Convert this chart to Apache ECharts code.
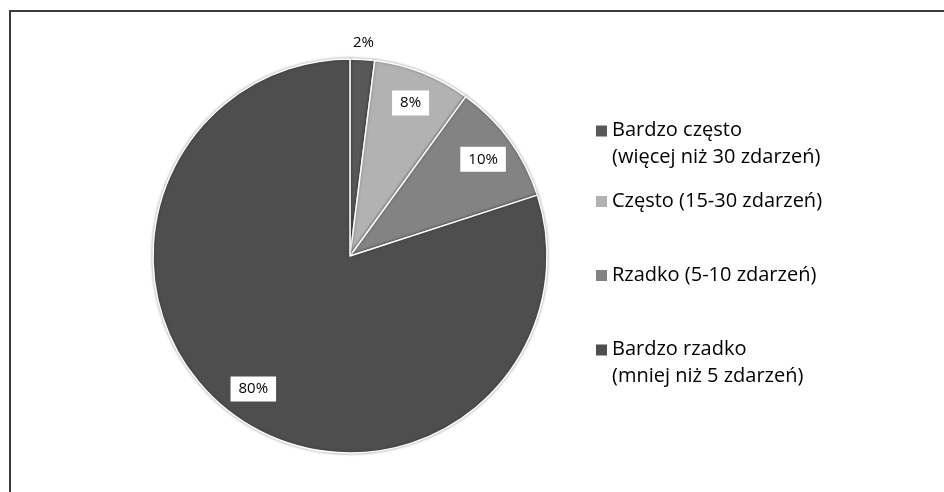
<!DOCTYPE html>
<html>
<head>
<meta charset="utf-8">
<script src="https://cdn.jsdelivr.net/npm/echarts@6/dist/echarts.min.js"></script>
<style>
  html, body { margin: 0; padding: 0; background: #fff; }
  #chart { width: 944px; height: 492px; }
</style>
</head>
<body>
<div id="chart"></div>
<script>
const categories = [
  'Bardzo często\n(więcej niż 30 zdarzeń)',
  'Często (15-30 zdarzeń)',
  'Rzadko (5-10 zdarzeń)',
  'Bardzo rzadko\n(mniej niż 5 zdarzeń)'
]
const shares = [2, 8, 10, 80]
const sliceColors = ['#585858', '#b2b2b2', '#838383', '#4e4e4e']

const chart = echarts.init(document.getElementById('chart'))

const center = [350, 256]
const legendTops = [117, 188, 262, 336]
const twoLine = [true, false, false, true]
// square sitting at the top of a taller box, so it lines up with the first text line
const topSquare = 'path://M0,0L11,0L11,11L0,11Z M0,37L0.01,37'

const pieData = categories.map((name, i) => ({
  name: name,
  value: shares[i],
  itemStyle: { color: sliceColors[i] }
}))

const labelBox = {
  color: '#000',
  fontFamily: 'Open Sans',
  fontSize: 15,
  lineHeight: 17,
  backgroundColor: '#fff',
  padding: [4, 8]
}

const legends = categories.map((name, i) => ({
  left: 596,
  top: legendTops[i],
  padding: 0,
  orient: 'vertical',
  itemWidth: 11,
  itemHeight: twoLine[i] ? 37 : 11,
  itemGap: 0,
  selectedMode: false,
  data: [{
    name: name,
    icon: twoLine[i] ? topSquare : 'rect',
    itemStyle: { color: sliceColors[i], borderWidth: 0 }
  }],
  textStyle: {
    fontFamily: 'Open Sans',
    fontSize: 20,
    color: '#000',
    lineHeight: 27
  }
}))

const option = {
  animation: false,
  backgroundColor: '#fff',
  graphic: [{
    type: 'rect',
    shape: { x: 10, y: 11, width: 1000, height: 1000 },
    style: { fill: 'none', stroke: '#3c3c3c', lineWidth: 2 },
    silent: true
  }],
  legend: legends,
  series: [
    {
      name: 'main',
      type: 'pie',
      center: center,
      radius: 197,
      startAngle: 90,
      clockwise: true,
      itemStyle: {
        borderColor: '#fff',
        borderWidth: 1.5,
        shadowBlur: 3,
        shadowColor: 'rgba(0,0,0,0.35)'
      },
      label: { show: false },
      labelLine: { show: false },
      data: pieData
    },
    {
      // labels inside the slices, near the rim
      name: 'inner labels',
      type: 'pie',
      center: center,
      radius: [126, 197],
      startAngle: 90,
      silent: true,
      itemStyle: { color: 'rgba(0,0,0,0)' },
      label: Object.assign({ show: true, position: 'inside', formatter: '{c}%' }, labelBox),
      labelLine: { show: false },
      data: categories.map((name, i) => ({
        name: name,
        value: shares[i],
        label: { show: i !== 0 }
      }))
    },
    {
      // the small slice gets its label above the pie
      name: 'outer labels',
      type: 'pie',
      center: center,
      radius: [202, 220],
      startAngle: 90,
      silent: true,
      itemStyle: { color: 'rgba(0,0,0,0)' },
      label: {
        show: true,
        position: 'inside',
        formatter: '{c}%',
        color: '#000',
        fontFamily: 'Open Sans',
        fontSize: 15
      },
      labelLine: { show: false },
      data: categories.map((name, i) => ({
        name: name,
        value: shares[i],
        label: { show: i === 0 }
      }))
    }
  ]
}

chart.setOption(option)
</script>
</body>
</html>
